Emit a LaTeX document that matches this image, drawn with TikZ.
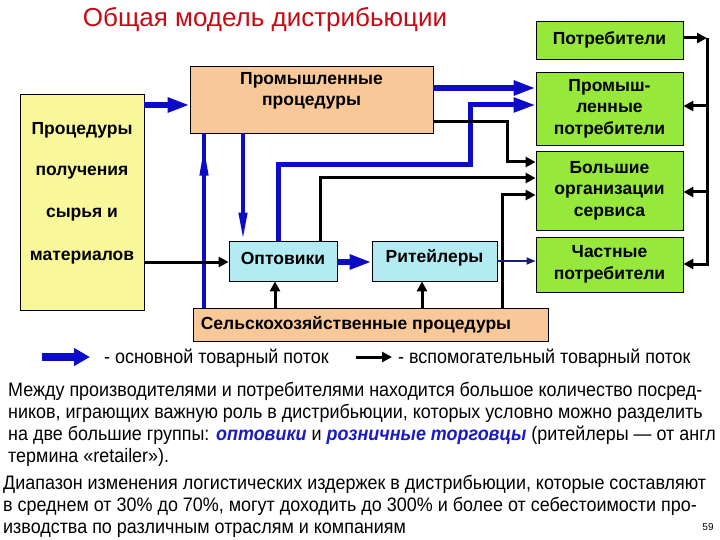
\documentclass[tikz,border=0pt]{standalone}
\usepackage{fontspec}
\setmainfont{Liberation Sans}
\newfontfamily\narrowfont[FakeStretch=0.92]{Liberation Sans}
\usetikzlibrary{arrows.meta,decorations.markings}
\definecolor{ttlred}{RGB}{200,10,20}
\definecolor{yel}{HTML}{F8F89A}
\definecolor{peach}{HTML}{F9C898}
\definecolor{lime}{HTML}{96E83A}
\definecolor{cyanbox}{HTML}{B2ECF2}
\definecolor{flowblue}{HTML}{0C0CC8}
\definecolor{navyline}{HTML}{1C1C7A}
\definecolor{emblue}{HTML}{1A1AC8}
\tikzset{
  boxst/.style={draw=black, line width=0.8pt, inner sep=0pt, align=center, font=\bfseries\fontsize{17.5}{21.5}\selectfont},
  lbl/.style={inner sep=0pt, align=center, font=\bfseries\fontsize{17.5}{21.5}\selectfont},
  mainflow/.style={draw=flowblue, line width=6pt, -{Triangle[length=22pt,width=14pt]}},
  slimflow/.style={draw=flowblue, line width=4pt},
  auxflow/.style={draw=black, line width=3pt, -{Triangle[length=10pt,width=10pt]}},
  auxline/.style={draw=black, line width=3pt},
  thinflow/.style={draw=navyline, line width=1.6pt, -{Triangle[length=9pt,width=7pt]}},
  bodytxt/.style={inner sep=0pt, anchor=base west, font=\narrowfont\fontsize{19.5}{22}\selectfont},
}
\newcommand{\emw}[1]{\textcolor{emblue}{\textbf{\textit{#1}}}}
\begin{document}
\begin{tikzpicture}[x=1pt,y=-1pt]
\fill[white] (0,0) rectangle (720,540);
\useasboundingbox (0,0) rectangle (720,540);

% title
\node[inner sep=0pt, text=ttlred, font=\fontsize{26}{28}\selectfont] (title) at (265,20) {Общая модель дистрибьюции};

% boxes
\node[boxst, fill=yel, minimum width=124pt, minimum height=216pt] (ymat) at (82,202) {};
\node[lbl] (ym1) at (82,130) {Процедуры};
\node[lbl] (ym2) at (82,173) {получения};
\node[lbl] (ym3) at (82,215) {сырья и};
\node[lbl] (ym4) at (82,258) {материалов};

\node[boxst, fill=peach, minimum width=243pt, minimum height=67pt] (prom) at (311.5,99.5) {};
\node[lbl] (promt) at (311.5,91) {Промышленные\\процедуры};

\node[boxst, fill=lime, minimum width=147pt, minimum height=38pt] (potr) at (609.5,40) {Потребители};
\node[boxst, fill=lime, minimum width=147pt, minimum height=73pt] (promp) at (609.5,108.5) {Промыш-\\ленные\\потребители};
\node[boxst, fill=lime, minimum width=147pt, minimum height=79pt] (bolsh) at (609.5,190.5) {Большие\\организации\\сервиса};
\node[boxst, fill=lime, minimum width=147pt, minimum height=55pt] (chast) at (609.5,264.5) {Частные\\потребители};

\node[boxst, fill=cyanbox, minimum width=108pt, minimum height=40pt] (opt) at (283,261) {};
\node[lbl] (optt) at (283,258) {Оптовики};
\node[boxst, fill=cyanbox, minimum width=125pt, minimum height=40pt] (ret) at (434.5,261) {};
\node[lbl] (rett) at (434.5,258) {Ритейлеры};

\node[boxst, fill=peach, minimum width=355pt, minimum height=33pt] (selsk) at (370.5,324.5) {};
\node[lbl] (selskt) at (356,325) {Сельскохозяйственные процедуры};

% routing coordinates
\coordinate (yA) at (0,105);
\coordinate (yB) at (0,262);
\coordinate (yC) at (0,88);
\coordinate (yD) at (0,122);
\coordinate (yH) at (0,261);
\coordinate (xA) at (204,0);
\coordinate (xB) at (243,0);
\coordinate (xC) at (275,0);
\coordinate (xD) at (422,0);
\coordinate (pB1) at (278,165);
\coordinate (pB2) at (470,105);
\coordinate (pK1) at (320,178);
\coordinate (pK2) at (507,162);
\coordinate (pK3) at (502,195);
\coordinate (bus1) at (707,38);
\coordinate (bus2) at (707,266);
\coordinate (yE) at (0,106);
\coordinate (yF) at (0,192);
\coordinate (yG) at (0,264);

% main flows (blue)
\draw[mainflow] (ymat.east |- yA) -- (prom.west |- yA);
\draw[slimflow, postaction={decorate}, decoration={markings, mark=at position 0.93 with {\arrow{Triangle[length=30pt,width=8pt]}}}]
  (selsk.north -| xA) -- (prom.south -| xA);
\draw[slimflow, -{Triangle[length=28pt,width=8pt]}] (prom.south -| xB) -- (opt.north -| xB);
\draw[mainflow] (opt.east |- yB) -- (ret.west |- yB);
\draw[mainflow] (prom.east |- yC) -- (promp.west |- yC);
\draw[draw=flowblue, line width=5pt, line join=miter, -{Triangle[length=22pt,width=14pt]}]
  (opt.north -| pB1) -- (pB1) -| (pB2) -- (promp.west |- pB2);

% auxiliary flows (black)
\draw[auxflow] (ymat.east |- yB) -- (opt.west |- yB);
\draw[auxflow] (selsk.north -| xC) -- (opt.south -| xC);
\draw[auxflow] (selsk.north -| xD) -- (ret.south -| xD);
\draw[auxflow, line join=miter] (selsk.north -| pK3) -- (pK3) -- (bolsh.west |- pK3);
\draw[auxflow, line join=miter] (opt.north -| pK1) -- (pK1) -- (bolsh.west |- pK1);
\draw[auxflow, line join=miter] (prom.east |- yD) -| (pK2) -- (bolsh.west |- pK2);
\draw[thinflow] (ret.east |- yH) -- (chast.west |- yH);

% feedback bus
\draw[auxflow] (potr.east |- bus1) -- (bus1);
\draw[auxline] (bus1) -- (bus2);
\draw[auxflow] (bus1 |- yE) -- (promp.east |- yE);
\draw[auxflow] (bus1 |- yF) -- (bolsh.east |- yF);
\draw[auxflow] (bus1 |- yG) -- (chast.east |- yG);

% legend
\coordinate (lg1a) at (42,357);
\coordinate (lg1b) at (90,357);
\coordinate (lg2a) at (356,357);
\coordinate (lg2b) at (392,357);
\draw[draw=flowblue, line width=8pt, -{Triangle[length=16pt,width=17pt]}] (lg1a) -- (lg1b);
\node[bodytxt] (lgt1) at (104,363) {- основной товарный поток};
\draw[auxflow] (lg2a) -- (lg2b);
\node[bodytxt] (lgt2) at (398,363) {- вспомогательный товарный поток};

% body text
\node[bodytxt] (p1) at (8,396) {Между производителями и потребителями находится большое количество посред-};
\node[bodytxt] (p2) at (8,418) {ников, играющих важную роль в дистрибьюции, которых условно можно разделить};
\node[bodytxt] (p3) at (8,440) {на две большие группы: \emw{оптовики} и \emw{розничные торговцы} (ритейлеры — от англ};
\node[bodytxt] (p4) at (8,462) {термина «retailer»).};
\node[bodytxt] (q1) at (3,489) {Диапазон изменения логистических издержек в дистрибьюции, которые составляют};
\node[bodytxt] (q2) at (3,511) {в среднем от 30\% до 70\%, могут доходить до 300\% и более от себестоимости про-};
\node[bodytxt] (q3) at (3,533) {изводства по различным отраслям и компаниям};
\node[inner sep=0pt, anchor=base, font=\fontsize{10}{12}\selectfont] (pg) at (708,530) {59};
\end{tikzpicture}
\end{document}
